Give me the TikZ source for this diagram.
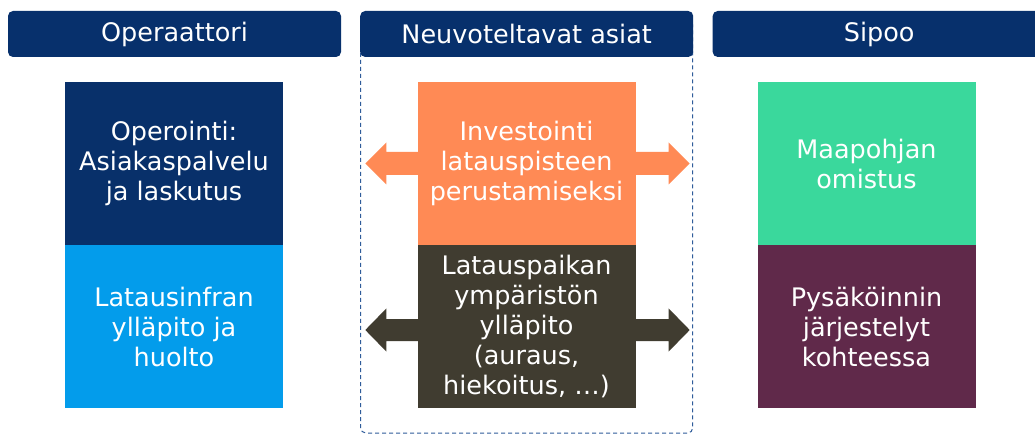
\documentclass[tikz,border=0pt]{standalone}
\usepackage{fontspec}
\setmainfont{DejaVu Sans}
\usetikzlibrary{calc}
\definecolor{navy}{HTML}{07306C}
\definecolor{boxnavy}{HTML}{08306A}
\definecolor{lightblue}{HTML}{039CEB}
\definecolor{orng}{HTML}{FF8A55}
\definecolor{olive}{HTML}{403C30}
\definecolor{mint}{HTML}{3AD89C}
\definecolor{plum}{HTML}{60294A}
\definecolor{dashblue}{HTML}{2F5C9A}
\newcommand{\txtfont}{\fontsize{25.5}{30}\selectfont}
\begin{document}
\begin{tikzpicture}[x=1pt,y=-1pt,
  header/.style={fill=navy, rounded corners=5pt, minimum width=333pt, minimum height=46pt,
    inner sep=0pt, text=white, font=\txtfont},
  cell/.style={minimum width=218pt, minimum height=163pt, inner sep=0pt, text=white,
    align=center, font=\txtfont},
  frame/.style={draw=dashblue, line width=1pt, dash pattern=on 4pt off 3pt, rounded corners=5pt}]
\useasboundingbox (0,0) rectangle (1035,435);
\clip (0,0) rectangle (1035,435);
\fill[white] (0,0) rectangle (1035,435);

% dashed frame of the middle column
\draw[frame] (360.7,20) rectangle (692.7,433);

% headers
\node[header] (h1) at (174.5,34) {Operaattori};
\node[header] (h2) at (526.7,34) {Neuvoteltavat asiat};
\node[header] (h3) at (879.2,34) {Sipoo};

% cells
\node[cell, fill=boxnavy] (op) at (174,163.5) {Operointi:\\Asiakaspalvelu\\ja laskutus};
\node[cell, fill=lightblue] (inf) at (174,326.5) {Latausinfran\\ylläpito ja\\huolto};
\node[cell, fill=orng] (inv) at (526.5,163.5) {Investointi\\latauspisteen\\perustamiseksi};
\node[cell, fill=olive] (ymp) at (526.5,326.5) {Latauspaikan\\ympäristön\\ylläpito\\(auraus,\\hiekoitus, …)};
\node[cell, fill=mint] (maa) at (866.5,163.5) {Maapohjan\\omistus};
\node[cell, fill=plum] (pys) at (866.5,326.5) {Pysäköinnin\\järjestelyt\\kohteessa};

% double arrows out of the middle cells
\fill[orng] ($(inv.west)+(1,-11.5)$) -- ($(inv.west)+(-31,-11.5)$) -- ($(inv.west)+(-31,-21)$)
  -- ($(inv.west)+(-52,0)$) -- ($(inv.west)+(-31,21)$) -- ($(inv.west)+(-31,11.5)$)
  -- ($(inv.west)+(1,11.5)$) -- cycle;
\fill[orng] ($(inv.east)+(-1,-11.5)$) -- ($(inv.east)+(33,-11.5)$) -- ($(inv.east)+(33,-21)$)
  -- ($(inv.east)+(54,0)$) -- ($(inv.east)+(33,21)$) -- ($(inv.east)+(33,11.5)$)
  -- ($(inv.east)+(-1,11.5)$) -- cycle;
\fill[olive] ($(ymp.west)+(1,-7.5)$) -- ($(ymp.west)+(-31,-7.5)$) -- ($(ymp.west)+(-31,-18)$)
  -- ($(ymp.west)+(-52,3.5)$) -- ($(ymp.west)+(-31,25)$) -- ($(ymp.west)+(-31,14.5)$)
  -- ($(ymp.west)+(1,14.5)$) -- cycle;
\fill[olive] ($(ymp.east)+(-1,-7.5)$) -- ($(ymp.east)+(33,-7.5)$) -- ($(ymp.east)+(33,-18)$)
  -- ($(ymp.east)+(54,3.5)$) -- ($(ymp.east)+(33,25)$) -- ($(ymp.east)+(33,14.5)$)
  -- ($(ymp.east)+(-1,14.5)$) -- cycle;
\end{tikzpicture}
\end{document}
